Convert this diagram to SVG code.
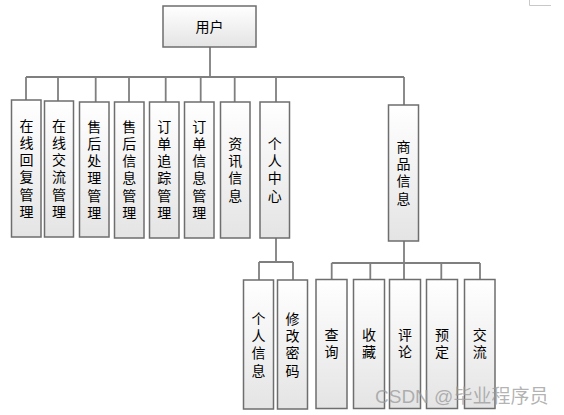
<svg xmlns="http://www.w3.org/2000/svg" width="564" height="415" viewBox="0 0 564 415">
<defs>
<linearGradient id="g" x1="0" y1="0" x2="0" y2="1">
<stop offset="0" stop-color="#ffffff"/>
<stop offset="1" stop-color="#e4e4e4"/>
</linearGradient>
<style>
.box{fill:url(#g);stroke:#6e6e6e;stroke-width:1.5}
.t{font-family:"Noto Sans CJK SC","Microsoft YaHei",sans-serif;font-size:14px;fill:#000;text-anchor:middle}
.v{writing-mode:vertical-rl;letter-spacing:3.2px}
.c{stroke:#7f7f7f;stroke-width:1.8;fill:none}
</style>
</defs>
<rect width="564" height="415" fill="#ffffff"/>
<path d="M529.5 0 V5.5 H551" stroke="#c8c8c8" stroke-width="1" fill="none"/>
<g id="connectors">
<path class="c" d="M210 47 V77 M26 77 H404 M26 77 V100 M58 77 V101 M95.7 77 V102 M129 77 V102 M165.7 77 V102 M200.7 77 V102 M234.7 77 V102 M276 77 V102 M404 77 V105"/>
<path class="c" d="M276 238 V262 M259 262 H293 M259 262 V280 M293 262 V280"/>
<path class="c" d="M404 241 V263 M331.7 263 H480 M331.7 263 V279.5 M370.3 263 V279.5 M404 263 V279.5 M441.3 263 V279.5 M480 263 V279.5"/>
</g>
<g id="n-user"><rect class="box" x="163" y="6" width="93" height="41"/><text class="t" x="209.5" y="31.5">用户</text></g>
<g id="n1"><rect class="box" x="11.5" y="100" width="29.5" height="137"/><text class="t v" x="26.5" y="170">在线回复管理</text></g>
<g id="n2"><rect class="box" x="44.5" y="101" width="29" height="136"/><text class="t v" x="59" y="170">在线交流管理</text></g>
<g id="n3"><rect class="box" x="79.5" y="102" width="29.5" height="135"/><text class="t v" x="94.3" y="171">售后处理管理</text></g>
<g id="n4"><rect class="box" x="114.5" y="102" width="29.5" height="136"/><text class="t v" x="129.3" y="171">售后信息管理</text></g>
<g id="n5"><rect class="box" x="149.5" y="102" width="29.5" height="136"/><text class="t v" x="164.3" y="171">订单追踪管理</text></g>
<g id="n6"><rect class="box" x="184.5" y="102" width="29.5" height="136"/><text class="t v" x="199.3" y="171">订单信息管理</text></g>
<g id="n7"><rect class="box" x="220.5" y="102" width="29.5" height="136"/><text class="t v" x="235.3" y="171">资讯信息</text></g>
<g id="n8"><rect class="box" x="260" y="102" width="29.5" height="136"/><text class="t v" x="274.8" y="171">个人中心</text></g>
<g id="n9"><rect class="box" x="388.5" y="105" width="30" height="136"/><text class="t v" x="403.5" y="174">商品信息</text></g>
<g id="n10"><rect class="box" x="243.5" y="280" width="30" height="129"/><text class="t v" x="258.5" y="346">个人信息</text></g>
<g id="n11"><rect class="box" x="277.5" y="280" width="30" height="129"/><text class="t v" x="292.5" y="346">修改密码</text></g>
<g id="n12"><rect class="box" x="316" y="279.5" width="31" height="129"/><text class="t v" x="331.5" y="345">查询</text></g>
<g id="n13"><rect class="box" x="353.5" y="279.5" width="31" height="129"/><text class="t v" x="369" y="345">收藏</text></g>
<g id="n14"><rect class="box" x="389.5" y="279.5" width="31" height="129"/><text class="t v" x="405" y="345">评论</text></g>
<g id="n15"><rect class="box" x="426.5" y="279.5" width="31" height="129"/><text class="t v" x="442" y="345">预定</text></g>
<g id="n16"><rect class="box" x="464.5" y="279.5" width="30.5" height="129"/><text class="t v" x="479.7" y="345">交流</text></g>
<text x="375" y="403" font-family="Liberation Sans,'Noto Sans CJK SC',sans-serif" font-size="19" fill="#9a9a9a" fill-opacity="0.75">CSDN @毕业程序员</text>
</svg>
